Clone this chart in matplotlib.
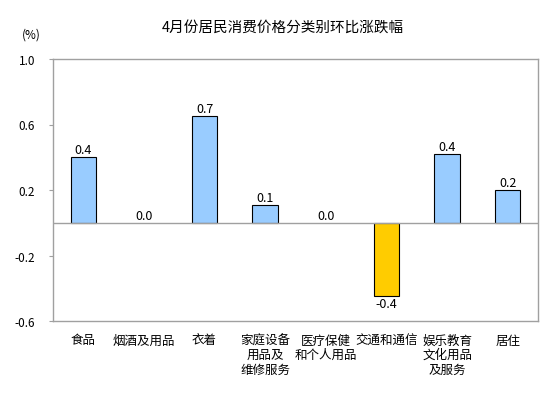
import numpy as np
import matplotlib.pyplot as plt

plt.rcParams['font.family'] = ['Noto Sans CJK SC', 'DejaVu Sans']

# categories and month-on-month change (%)
categories = ["食品", "烟酒及用品", "衣着", "家庭设备\n用品及\n维修服务",
              "医疗保健\n和个人用品", "交通和通信", "娱乐教育\n文化用品\n及服务", "居住"]
values = [0.40, 0.0, 0.65, 0.11, 0.0, -0.45, 0.42, 0.20]
value_labels = ["0.4", "0.0", "0.7", "0.1", "0.0", "-0.4", "0.4", "0.2"]
yticks = [1.0, 0.6, 0.2, -0.2, -0.6]

fig = plt.figure(figsize=(5.6, 4.02), dpi=100)
ax = fig.add_axes([53 / 560, 1 - 322 / 402, 485 / 560, 262 / 402])

x = np.arange(len(categories))
colours = ["#FFCC00" if v < 0 else "#99CCFF" for v in values]
edges = [0.8 if v != 0 else 0 for v in values]
ax.bar(x, values, width=0.42, color=colours, edgecolor="black", linewidth=edges, zorder=3)

for xi, v, lab in zip(x, values, value_labels):
    if v < 0:
        ax.text(xi, v - 0.005, lab, ha="center", va="top", fontsize=9)
    else:
        ax.text(xi, v + 0.005, lab, ha="center", va="bottom", fontsize=9)

ax.axhline(0, color="#a0a0a0", linewidth=1, zorder=4)
ax.set_xlim(-0.5, len(categories) - 0.5)
ax.set_ylim(-0.6, 1.0)
ax.set_yticks(yticks)
ax.set_yticklabels(["%.1f" % t for t in yticks], fontsize=8.5)
ax.set_xticks(x)
ax.set_xticklabels(categories, fontsize=9, linespacing=1.15, va="top")
ax.tick_params(axis="x", length=0, pad=9)
ax.tick_params(axis="y", length=3, color="#a0a0a0", pad=10)
for s in ax.spines.values():
    s.set_color("#a0a0a0")
    s.set_linewidth(1)

fig.text(0.505, 1 - 28 / 402, "4月份居民消费价格分类别环比涨跌幅", ha="center", va="center", fontsize=10.5)
fig.text(22 / 560, 1 - 35 / 402, "(%)", ha="left", va="center", fontsize=8.5)

fig.savefig("out.png", dpi=100)
